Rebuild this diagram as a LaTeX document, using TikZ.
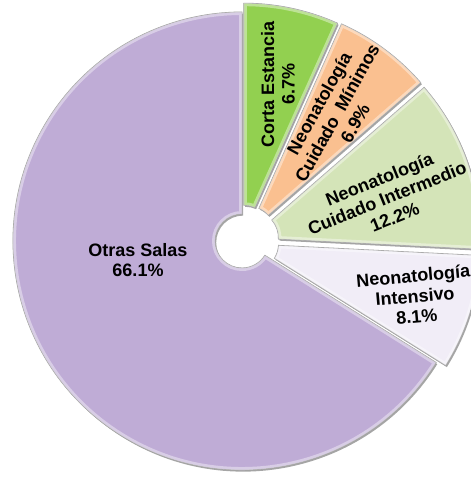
\documentclass[tikz,border=0pt]{standalone}
\usepackage{fontspec}
\setmainfont{Liberation Sans}
\usetikzlibrary{shadows}
\definecolor{cPurple}{RGB}{191,172,214}
\definecolor{cGreen}{RGB}{146,208,80}
\definecolor{cOrange}{RGB}{250,192,144}
\definecolor{cLime}{RGB}{212,228,184}
\definecolor{cLav}{RGB}{241,237,247}
\tikzset{
  slicefill/.style={fill=#1, draw=black!38, line width=0.8pt,
    drop shadow={shadow xshift=1.2pt, shadow yshift=-1.6pt, opacity=0.35, fill=black}},
  slicerim/.style={draw=white, opacity=0.4, line width=6pt},
  pielabel/.style={font=\fontsize{18}{20.5}\selectfont\bfseries, align=center, text=black, inner sep=0pt},
}
% #1 colour, #2 start angle, #3 end angle, #4 explode distance
\newcommand\drawslice[4]{%
  \pgfmathsetmacro\midang{(#2+#3)/2}%
  \begin{scope}[shift={(242pt,236pt)}, shift={(\midang:#4pt)}]
    \path[slicefill=#1] (#2:27pt) -- (#2:229pt) arc[start angle=#2, end angle=#3, radius=229pt]
      -- (#3:27pt) arc[start angle=#3, end angle=#2, radius=27pt] -- cycle;
    \begin{scope}
      \clip (#2:27pt) -- (#2:229pt) arc[start angle=#2, end angle=#3, radius=229pt]
        -- (#3:27pt) arc[start angle=#3, end angle=#2, radius=27pt] -- cycle;
      \draw[slicerim] (#2:27pt) -- (#2:229pt) arc[start angle=#2, end angle=#3, radius=229pt]
        -- (#3:27pt) arc[start angle=#3, end angle=#2, radius=27pt] -- cycle;
    \end{scope}
  \end{scope}}
\begin{document}
\begin{tikzpicture}[x=1pt, y=1pt]
  \useasboundingbox (0,0) rectangle (471,477);
  \clip (0,0) rectangle (471,477);
  \fill[white] (0,0) rectangle (471,477);
  \drawslice{cPurple}{-32.04}{-270}{0}
  \drawslice{cGreen}{90}{65.88}{9}
  \drawslice{cOrange}{65.88}{41.04}{10}
  \drawslice{cLime}{41.04}{-2.88}{10}
  \drawslice{cLav}{-2.88}{-32.04}{10}
  \node[pielabel] (otras) at (138,217) {Otras Salas\\66.1\%};
  \node[pielabel, rotate=90] (corta) at (278,393) {Corta Estancia\\6.7\%};
  \node[pielabel, rotate=61] (minimos) at (337,364) {Neonatología\\Cuidado\ \ Mínimos\\6.9\%};
  \node[pielabel, rotate=22] (intermedio) at (387,279) {Neonatología\\Cuidado Intermedio\\12.2\%};
  \node[pielabel, rotate=5] (intensivo) at (415,181) {Neonatología\\Intensivo\\8.1\%};
\end{tikzpicture}
\end{document}
